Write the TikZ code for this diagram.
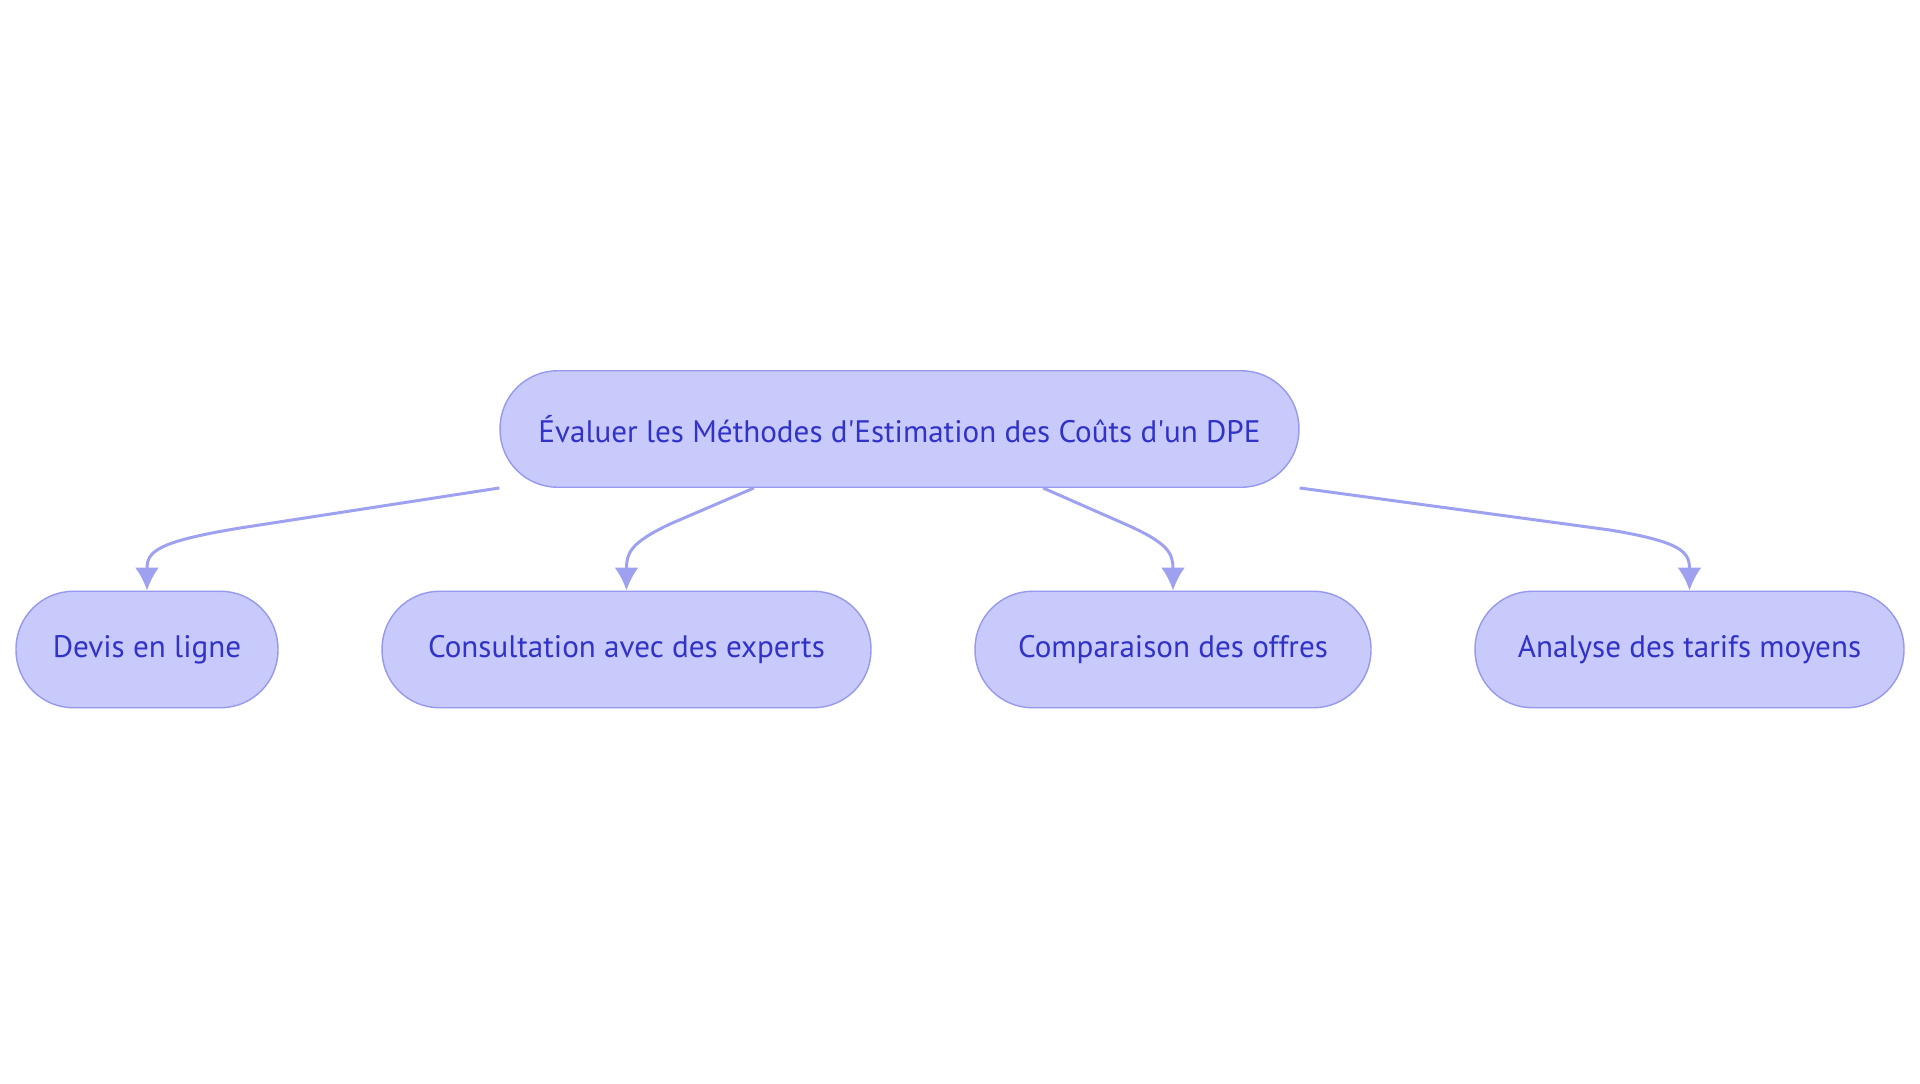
\documentclass[tikz,border=0pt]{standalone}
\usepackage{fontspec}
\setmainfont{PT Sans}
\usetikzlibrary{arrows.meta,calc}

\definecolor{pillfill}{RGB}{200,202,252}
\definecolor{pillline}{RGB}{150,153,238}
\definecolor{pilltext}{RGB}{48,50,200}
\definecolor{linkcol}{RGB}{158,161,240}

\begin{document}
\begin{tikzpicture}[
  x=0.02cm, y=-0.02cm,
  pnode/.style={draw=pillline,fill=pillfill,line width=0.8pt,rectangle,rounded corners=1.15cm,
    minimum height=2.33cm,inner sep=0pt,text=pilltext,font=\fontsize{17.7}{21}\selectfont},
  link/.style={draw=linkcol,line width=1.7pt,-{Latex[length=4.6mm,width=4.8mm]}}
]
  \useasboundingbox (0,0) rectangle (1920,1083);

  % root
  \node[pnode,minimum width=15.98cm] (root) at (899.5,429) {Évaluer les Méthodes d\textquotesingle Estimation des Coûts d\textquotesingle un DPE};

  % children
  \node[pnode,minimum width=5.24cm] (c1) at (147,649.5) {Devis en ligne};
  \node[pnode,minimum width=9.78cm] (c2) at (626.5,649.5) {Consultation avec des experts};
  \node[pnode,minimum width=7.92cm] (c3) at (1173,649.5) {Comparaison des offres};
  \node[pnode,minimum width=8.58cm] (c4) at (1689.5,649.5) {Analyse des tarifs moyens};

  % edges
  \draw[link] (root.south west) -- (240,528) .. controls (155,542) and (147,552) .. (c1.north);
  \draw[link] ($(root.south)+(-145.5,0)$) -- (670,524) .. controls (630,543) and (626.5,553) .. (c2.north);
  \draw[link] ($(root.south)+(143.5,0)$) -- (1125,524) .. controls (1168,543) and (1173,553) .. (c3.north);
  \draw[link] (root.south east) -- (1610,530) .. controls (1682,542) and (1689.5,552) .. (c4.north);

\end{tikzpicture}
\end{document}
